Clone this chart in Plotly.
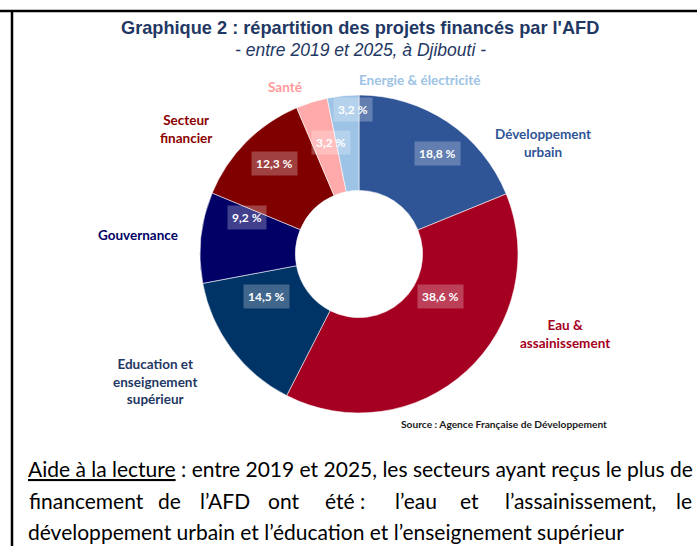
import math
import plotly.graph_objects as go

# ---------------- data ----------------
categories = [
    "Développement urbain",
    "Eau & assainissement",
    "Education et enseignement supérieur",
    "Gouvernance",
    "Secteur financier",
    "Santé",
    "Energie & électricité",
]
shares = [18.8, 38.6, 14.5, 9.2, 12.3, 3.2, 3.2]
category_labels = [
    "Développement<br>urbain",
    "Eau &<br>assainissement",
    "Education et<br>enseignement<br>supérieur",
    "Gouvernance",
    "Secteur<br>financier",
    "Santé",
    "Energie & électricité",
]

# ---------------- style / layout ----------------
W, H = 697, 546
CX, CY, R = 359, 254, 159          # pie centre & radius in pixels
HOLE = 0.40
slice_colors = ["#2F5597", "#A50021", "#003366", "#000066", "#800000", "#FFAAAA", "#9DC3E6"]
label_colors = ["#2F5597", "#A50021", "#1F3864", "#000066", "#8B0000", "#FF9999", "#9DC3E6"]
# value label placement: (angle nudge from slice middle in degrees, radius fraction)
value_label_nudge = [(4, 0.80), (-19.7, 0.58), (12, 0.64), (12.3, 0.74), (2.3, 0.78), (3.3, 0.72), (3.4, 0.91)]
# category label positions (pixels)
category_label_pos = [(543, 143), (565, 334), (155, 381), (138, 235), (186, 129), (285, 87), (419, 80)]
TITLE_COLOR = "#1F3864"
LABEL_FONT = "Lato"
BODY_FONT = "Lato"


def px(x):
    return x / W


def py(y):
    return 1 - y / H


fig = go.Figure()
fig.add_trace(
    go.Pie(
        labels=categories,
        values=shares,
        hole=HOLE,
        sort=False,
        direction="clockwise",
        rotation=0,
        textinfo="none",
        marker=dict(colors=slice_colors, line=dict(color="rgba(255,255,255,0.7)", width=0.8)),
        domain=dict(x=[px(CX - R), px(CX + R)], y=[py(CY + R), py(CY - R)]),
        showlegend=False,
    )
)

annotations = []

# value labels derived from data
total = sum(shares)
cum = 0.0
for i, v in enumerate(shares):
    mid = (cum + v / 2) / total * 360.0
    cum += v
    dth, rf = value_label_nudge[i]
    ang = math.radians(mid + dth)
    x = CX + rf * R * math.sin(ang)
    y = CY - rf * R * math.cos(ang)
    txt = f"{v:.1f}".replace(".", ",") + " %"
    annotations.append(dict(
        x=px(x), y=py(y), xref="paper", yref="paper", showarrow=False,
        text=f"<b>{txt}</b>", font=dict(family=LABEL_FONT, size=12, color="white"),
        bgcolor="rgba(255,255,255,0.25)", borderpad=4, xanchor="center", yanchor="middle",
    ))

# category labels
for i, lab in enumerate(category_labels):
    x, y = category_label_pos[i]
    annotations.append(dict(
        x=px(x), y=py(y), xref="paper", yref="paper", showarrow=False,
        text=f"<b>{lab}</b>", font=dict(family=LABEL_FONT, size=13.5, color=label_colors[i]),
        xanchor="center", yanchor="middle", align="center",
    ))

# titles
annotations.append(dict(
    x=px(360), y=py(28), xref="paper", yref="paper", showarrow=False,
    text="<b>Graphique 2 : répartition des projets financés par l'AFD</b>",
    font=dict(family="Liberation Sans, Arial", size=18.2, color=TITLE_COLOR),
    xanchor="center", yanchor="middle",
))
annotations.append(dict(
    x=px(360), y=py(50), xref="paper", yref="paper", showarrow=False,
    text="<i>- entre 2019 et 2025, à Djibouti -</i>",
    font=dict(family="Liberation Sans, Arial", size=17.5, color=TITLE_COLOR),
    xanchor="center", yanchor="middle",
))
annotations.append(dict(
    x=px(504), y=py(424), xref="paper", yref="paper", showarrow=False,
    text="<b>Source : Agence Française de Développement</b>",
    font=dict(family=LABEL_FONT, size=10.2, color="#1a1a1a"),
    xanchor="center", yanchor="middle",
))

# reading aid text
BODY = dict(family=BODY_FONT, size=21, color="black")
annotations.append(dict(
    x=px(26), y=py(469), xref="paper", yref="paper", showarrow=False,
    text="<u>Aide à la lecture</u> : entre 2019 et 2025, les secteurs ayant reçus le plus de",
    font=BODY, xanchor="left", yanchor="middle",
))
line2_words = ["financement", "de", "l’AFD", "ont", "été :", "l’eau", "et", "l’assainissement,", "le"]
line2_x = [27, 156, 198, 266, 323, 393, 458, 503, 694]
for w_, x_ in zip(line2_words, line2_x):
    annotations.append(dict(
        x=px(x_), y=py(500), xref="paper", yref="paper", showarrow=False,
        text=w_, font=BODY, xanchor="right" if w_ == "le" else "left", yanchor="middle",
    ))
annotations.append(dict(
    x=px(26), y=py(531), xref="paper", yref="paper", showarrow=False,
    text="développement urbain et l’éducation et l’enseignement supérieur",
    font=BODY, xanchor="left", yanchor="middle",
))

shapes = [
    dict(type="line", xref="paper", yref="paper", x0=0, x1=1, y0=py(11), y1=py(11),
         line=dict(color="black", width=2.5)),
    dict(type="line", xref="paper", yref="paper", x0=px(12), x1=px(12), y0=0, y1=py(11),
         line=dict(color="black", width=2.5)),
]

fig.update_layout(
    width=W, height=H,
    margin=dict(l=0, r=0, t=0, b=0),
    paper_bgcolor="white", plot_bgcolor="white",
    annotations=annotations, shapes=shapes,
)

fig.write_html(
    "out.html",
    config={"displayModeBar": False},
    post_script="document.body.style.margin='0';document.body.style.overflow='hidden';",
)
